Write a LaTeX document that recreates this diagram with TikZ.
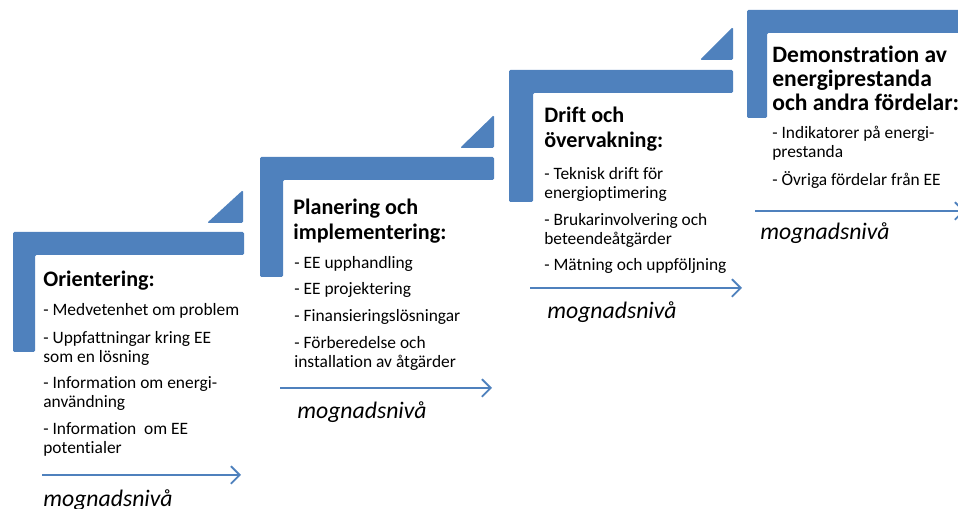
\documentclass[tikz,border=0pt]{standalone}
\usepackage{fontspec}
\setmainfont{Carlito}[Ligatures=NoCommon]
\usetikzlibrary{arrows.meta}
\definecolor{barblue}{RGB}{79,129,189}
\newcommand{\stacklines}[1]{\begin{tabular}[t]{@{}l@{}}#1\end{tabular}}

\begin{document}
\begin{tikzpicture}[x=0.02cm,y=-0.02cm]
    \tikzset{StepBar/.style = {fill=barblue, draw=none, rounded corners=0.8pt}}
    \tikzset{HeadText/.style = {font=\bfseries\fontsize{12.6}{14.2}\selectfont, anchor=base west, inner sep=0pt}}
    \tikzset{ItemText/.style = {font=\fontsize{9.9}{10.8}\selectfont, anchor=base west, inner sep=0pt}}
    \tikzset{LevelText/.style = {font=\itshape\fontsize{13.5}{15}\selectfont, anchor=base west, inner sep=0pt}}
    \tikzset{LevelArrow/.style = {draw=barblue, line width=1.1pt, -{Straight Barb[length=5pt,width=10pt,line width=1.1pt]}}}
    \useasboundingbox (0,0) rectangle (958,509);

    \fill[StepBar] (13,232) -- (244,232) -- (244,255) -- (35,255) -- (35,352) -- (13,352) -- cycle;
    \fill[StepBar] (207,223) -- (243,223) -- (243,190) -- cycle;
    \fill[StepBar] (260,157) -- (494,157) -- (494,180) -- (283,180) -- (283,277) -- (260,277) -- cycle;
    \fill[StepBar] (460,148) -- (494,148) -- (494,115) -- cycle;
    \fill[StepBar] (509,70) -- (733,70) -- (733,93) -- (533,93) -- (533,202) -- (509,202) -- cycle;
    \fill[StepBar] (700,60) -- (733,60) -- (733,27) -- cycle;
    \fill[StepBar] (747,10) -- (968,10) -- (968,33) -- (767,33) -- (767,118) -- (747,118) -- cycle;

    \node[HeadText] (tA) at (43,287) {Orientering:};
    \node[ItemText] (iA1) at (43,316) {- Medvetenhet om problem};
    \node[ItemText] (iA2) at (43,344) {\stacklines{- Uppfattningar kring EE\\som en lösning}};
    \node[ItemText] (iA3) at (43,389) {\stacklines{- Information om energi-\\användning}};
    \node[ItemText] (iA4) at (43,435) {\stacklines{- Information\ \ om EE\\potentialer}};
    \coordinate (sA) at (42,475);
    \coordinate (eA) at (241,475);
    \draw[LevelArrow] (sA) -- (eA);
    \node[LevelText] (lA) at (43,507) {mognadsnivå};

    \node[HeadText] (tB) at (293,215) {\stacklines{Planering och\\implementering:}};
    \node[ItemText] (iB1) at (294,269) {- EE upphandling};
    \node[ItemText] (iB2) at (294,295) {- EE projektering};
    \node[ItemText] (iB3) at (294,322) {- Finansieringslösningar};
    \node[ItemText] (iB4) at (294,349) {\stacklines{- Förberedelse och\\installation av åtgärder}};
    \coordinate (sB) at (280,388);
    \coordinate (eB) at (492,388);
    \draw[LevelArrow] (sB) -- (eB);
    \node[LevelText] (lB) at (297,419) {mognadsnivå};

    \node[HeadText] (tC) at (544,123) {\stacklines{Drift och\\övervakning:}};
    \node[ItemText] (iC1) at (544,180) {\stacklines{- Teknisk drift för\\energioptimering}};
    \node[ItemText] (iC2) at (544,226) {\stacklines{- Brukarinvolvering och\\beteendeåtgärder}};
    \node[ItemText] (iC3) at (544,271) {- Mätning och uppföljning};
    \coordinate (sC) at (530,288);
    \coordinate (eC) at (742,288);
    \draw[LevelArrow] (sC) -- (eC);
    \node[LevelText] (lC) at (547,319) {mognadsnivå};

    \node[HeadText, font=\bfseries\fontsize{13.4}{13.4}\selectfont] (tD) at (772,63) {\stacklines{Demonstration av\\energiprestanda\\och andra fördelar:}};
    \node[ItemText] (iD1) at (772,139) {\stacklines{- Indikatorer på energi-\\prestanda}};
    \node[ItemText] (iD2) at (772,186) {- Övriga fördelar från EE};
    \coordinate (sD) at (755,211);
    \coordinate (eD) at (965,211);
    \draw[LevelArrow] (sD) -- (eD);
    \node[LevelText] (lD) at (760,240) {mognadsnivå};
\end{tikzpicture}
\end{document}
